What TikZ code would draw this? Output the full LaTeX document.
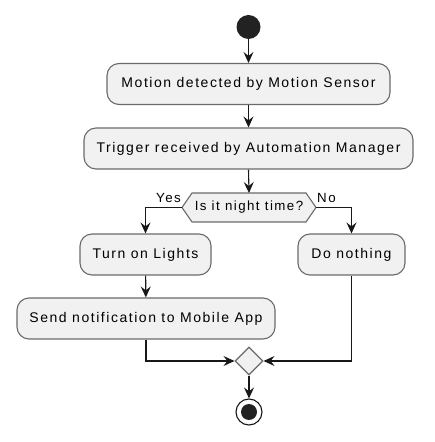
\documentclass[tikz,border=0pt]{standalone}
\usepackage{fontspec}
\setmainfont{Liberation Sans}[LetterSpace=11]
\usetikzlibrary{arrows.meta,shapes.geometric}
\definecolor{boxfill}{HTML}{F1F1F1}
\definecolor{boxline}{HTML}{6A6A6A}
\definecolor{ink}{HTML}{181818}
\definecolor{dot}{HTML}{222222}
\tikzset{
  act/.style={draw=boxline, fill=boxfill, rounded corners=12pt, line width=1.1pt,
    minimum height=41pt, inner sep=0pt, font=\fontsize{14}{16}\selectfont, text=black},
  flow/.style={draw=ink, line width=1.1pt, -{Stealth[length=11pt,width=10pt,inset=4pt]}},
  lbl/.style={font=\fontsize{13.3}{15}\selectfont, inner sep=0pt, text=black}
}
\begin{document}
\begin{tikzpicture}[x=1pt,y=1pt]
\useasboundingbox (0,0) rectangle (435,442);
\node[circle, fill=dot, minimum size=24pt, inner sep=0] (start) at (248.5,415) {};
\node[act, minimum width=283pt] (a1) at (248.5,358) {Motion detected by Motion Sensor};
\node[act, minimum width=329pt] (a2) at (248.5,293.5) {Trigger received by Automation Manager};
% decision
\coordinate (decL) at (182,234.5);
\coordinate (decR) at (316,234.5);
\coordinate (decT) at (249,249);
\draw[draw=boxline, fill=boxfill, line width=1.1pt] (decL) -- (192,249) -- (306,249) -- (decR) -- (306,220) -- (192,220) -- cycle;
\node[lbl] (dec) at (249,234.5) {Is it night time?};
\node[act, minimum width=131pt] (a3) at (145.5,187.5) {Turn on Lights};
\node[act, minimum width=107pt] (a4) at (351.5,187.5) {Do nothing};
\node[act, minimum width=258pt] (a5) at (146,123.5) {Send notification to Mobile App};
\node[diamond, draw=boxline, fill=boxfill, line width=1.1pt, minimum width=28pt, minimum height=28pt, inner sep=0pt, aspect=1] (merge) at (249,81) {};
\node[circle, draw=ink, line width=1.1pt, minimum size=26pt, inner sep=0] (stop) at (249,30) {};
\node[circle, fill=dot, minimum size=16pt, inner sep=0] (stopin) at (stop) {};
\node[lbl, anchor=base east] (yes) at (181,239) {Yes};
\node[lbl, anchor=base west] (no) at (317,239) {No};
\draw[flow] (start) -- (a1);
\draw[flow] (a1) -- (a2);
\draw[flow] (a2.south) -- (decT);
\draw[flow] (decL) -| (a3.north);
\draw[flow] (decR) -| (a4.north);
\draw[flow] (a3) -- (a5);
\draw[flow] (a5.south) |- (merge.west);
\draw[flow] (a4.south) |- (merge.east);
\draw[flow] (merge) -- (stop);
\end{tikzpicture}
\end{document}
